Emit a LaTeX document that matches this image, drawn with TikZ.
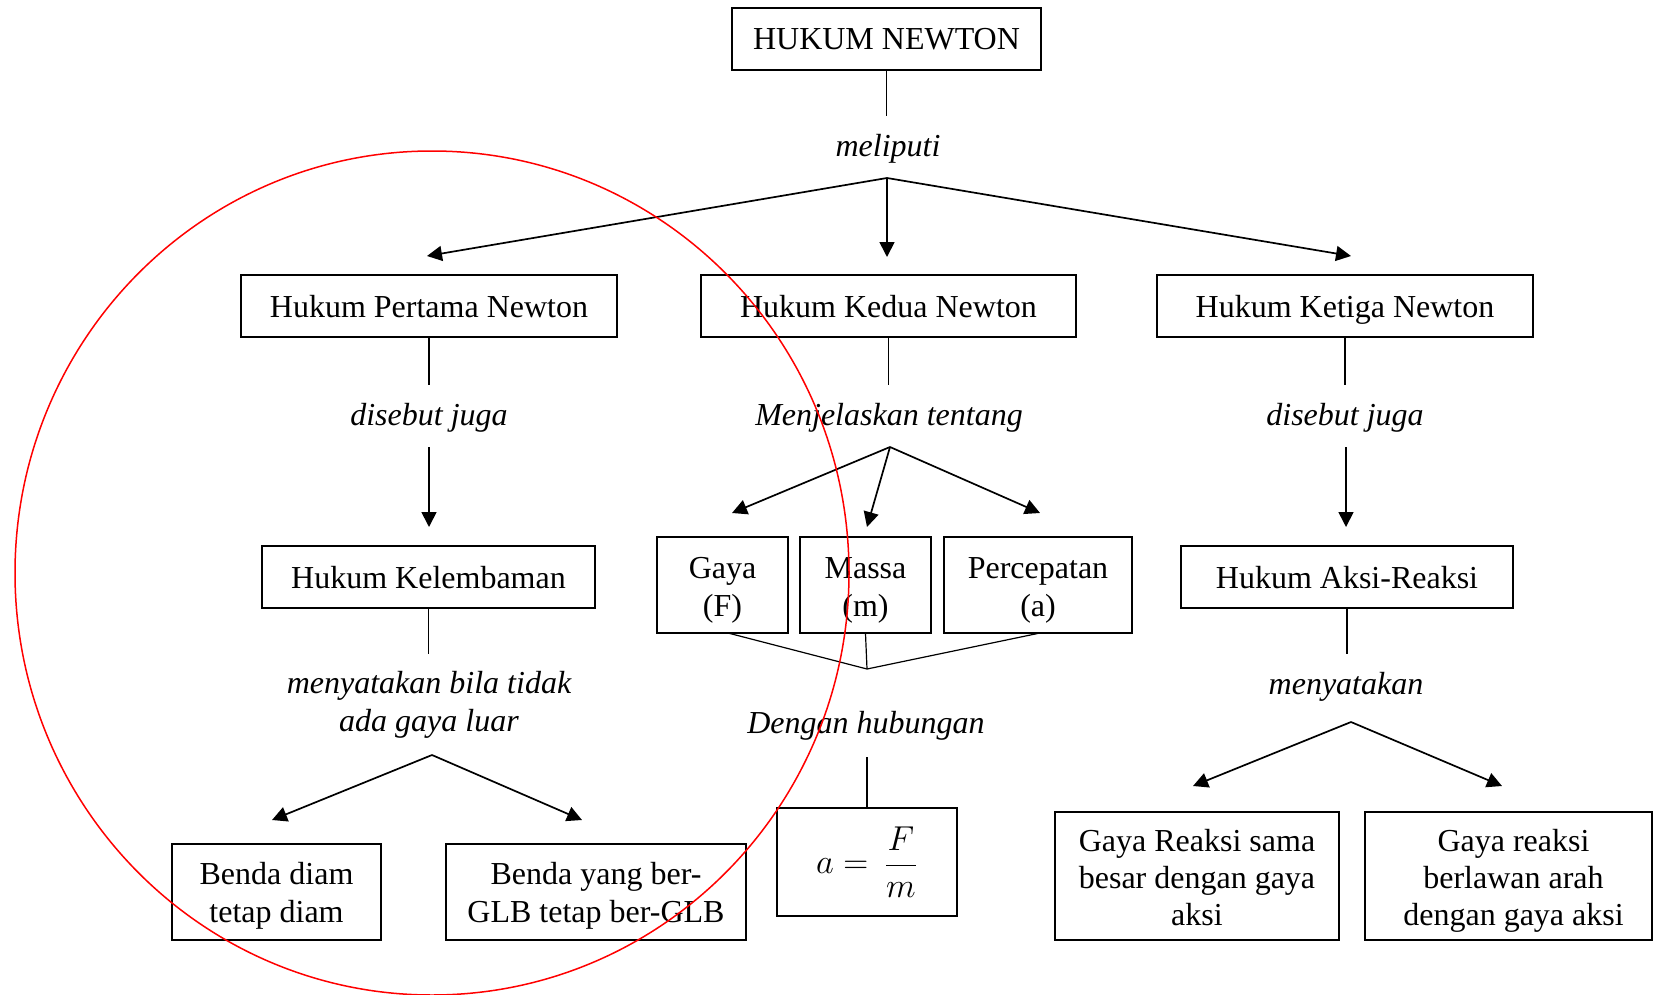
\documentclass[tikz,border=0pt]{standalone}
\usepackage{fontspec}
\setmainfont{Liberation Serif}
\usetikzlibrary{arrows.meta}
\newcommand{\topstrut}{\rule{0pt}{13pt}}
\newcommand{\tallstrut}{\rule{0pt}{16pt}}
\begin{document}
\begin{tikzpicture}[x=0.5pt,y=-0.5pt,
  txt/.style={font=\fontsize{16}{19}\selectfont},
  box/.style={txt, draw, line width=0.65pt, align=center, inner sep=0pt},
  onebox/.style={box, text depth=0pt, minimum height=31pt},
  threebox/.style={box, font=\fontsize{16}{18.5}\selectfont, minimum height=64pt},
  lbl/.style={font=\fontsize{16}{19}\selectfont\itshape, align=center, inner sep=0pt},
  arr/.style={line width=0.85pt, -{Triangle[length=7.5pt,width=7.5pt]}},
  ln/.style={line width=0.6pt},
  ]
\useasboundingbox (0,0) rectangle (1653,995);

% boxes
\node[onebox, minimum width=154.5pt] (top) at (886.5,39) {HUKUM NEWTON};
\node[onebox, minimum width=188pt] (p1) at (429,306) {Hukum Pertama Newton};
\node[onebox, minimum width=187.5pt] (p2) at (888.5,306) {Hukum Kedua Newton};
\node[onebox, minimum width=188pt] (p3) at (1345,306) {Hukum Ketiga Newton};
\node[onebox, minimum width=166.5pt] (kel) at (428.5,577) {Hukum Kelembaman};
\node[onebox, minimum width=166pt] (aks) at (1347,577) {Hukum Aksi-Reaksi};
\node[box, minimum width=65.5pt, minimum height=48pt] (gaya) at (722.5,585) {\tallstrut Gaya\\(F)};
\node[box, minimum width=65.5pt, minimum height=48pt] (massa) at (865.5,585) {\tallstrut Massa\\(m)};
\node[box, minimum width=94pt, minimum height=48pt] (perc) at (1038,585) {\tallstrut Percepatan\\(a)};
\node[box, minimum width=90pt, minimum height=54pt] (form) at (867,862) {$\displaystyle a = \,\frac{F}{m}$};
\node[box, minimum width=104.5pt, minimum height=48pt] (bd) at (276.5,892) {\rule{0pt}{15pt}Benda diam\\tetap diam};
\node[box, minimum width=150pt, minimum height=48pt] (bg) at (596,892) {\rule{0pt}{15pt}Benda yang ber-\\GLB tetap ber-GLB};
\node[threebox, minimum width=142pt] (gr1) at (1197,876) {\topstrut Gaya Reaksi sama\\besar dengan gaya\\aksi};
\node[threebox, minimum width=143.5pt] (gr2) at (1508.5,876) {\tallstrut\hspace*{5pt}Gaya reaksi\\\hspace*{5pt}berlawan arah\\\hspace*{5pt}dengan gaya aksi};

% labels
\node[lbl] (l0) at (888,149) {meliputi};
\node[lbl] (l1) at (429,418) {disebut juga};
\node[lbl] (l2) at (889,418) {Menjelaskan tentang};
\node[lbl] (l3) at (1345,418) {disebut juga};
\node[lbl] (l4) at (429,705) {menyatakan bila tidak\\ada gaya luar};
\node[lbl] (l5) at (866,726) {Dengan hubungan};
\node[lbl] (l6) at (1346,687) {menyatakan};

% coordinates
\coordinate (c0) at (886.5,116);
\coordinate (b0) at (887,178);
\coordinate (t1) at (427,256);
\coordinate (t2) at (887,257);
\coordinate (t3) at (1351,256);

\coordinate (c1) at (429,385);
\coordinate (s1) at (429,447);
\coordinate (e1) at (429,527);
\coordinate (c1b) at (428.5,654);
\coordinate (b1) at (432,755);
\coordinate (t1a) at (272,820);
\coordinate (t1b) at (582,820);

\coordinate (c2) at (888.5,385);
\coordinate (b2) at (890,447);
\coordinate (t2a) at (732,513);
\coordinate (t2b) at (867,527);
\coordinate (t2c) at (1040,513);
\coordinate (g1) at (728,633);
\coordinate (g3) at (1040,633);
\coordinate (j) at (867,669);
\coordinate (c2b) at (867,757);

\coordinate (c3) at (1345,385);
\coordinate (s3) at (1346,447);
\coordinate (e3) at (1346,527);
\coordinate (c3b) at (1347,654);
\coordinate (b3) at (1351,722);
\coordinate (t3a) at (1193,786);
\coordinate (t3b) at (1502,786);

% connectors
\draw[ln] (top.south) -- (c0);
\draw[arr] (b0) -- (t1);
\draw[arr] (b0) -- (t2);
\draw[arr] (b0) -- (t3);

\draw[ln] (p1.south) -- (c1);
\draw[arr] (s1) -- (e1);
\draw[ln] (kel.south) -- (c1b);
\draw[arr] (b1) -- (t1a);
\draw[arr] (b1) -- (t1b);

\draw[ln] (p2.south) -- (c2);
\draw[arr] (b2) -- (t2a);
\draw[arr] (b2) -- (t2b);
\draw[arr] (b2) -- (t2c);
\draw[ln] (g1) -- (j);
\draw[ln] (massa.south) -- (j);
\draw[ln] (g3) -- (j);
\draw[ln] (c2b) -- (form.north);

\draw[ln] (p3.south) -- (c3);
\draw[arr] (s3) -- (e3);
\draw[ln] (aks.south) -- (c3b);
\draw[arr] (b3) -- (t3a);
\draw[arr] (b3) -- (t3b);

% red circle
\draw[red, line width=0.75pt] (432,573) ellipse [x radius=208.5pt, y radius=211pt];
\end{tikzpicture}
\end{document}
